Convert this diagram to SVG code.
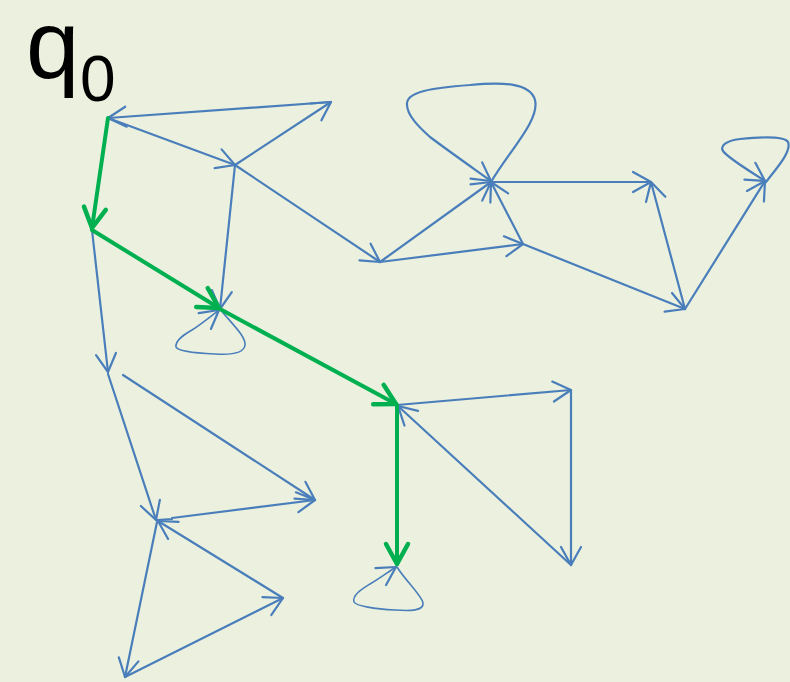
<svg xmlns="http://www.w3.org/2000/svg" width="790" height="682" viewBox="0 0 790 682">
<style>
.b{fill:none;stroke:#4A7EBB;stroke-width:2.2;stroke-linecap:round;stroke-linejoin:round}
.bl{fill:none;stroke:#4A7EBB;stroke-width:1.6;stroke-linecap:round}
.g{fill:none;stroke:#00B050;stroke-width:4;stroke-linecap:round;stroke-linejoin:round}
.t{font-family:"Liberation Sans",Arial,sans-serif;fill:#000}
</style>
<defs>
<marker id="ab" markerUnits="userSpaceOnUse" viewBox="-22 -12 24 24" markerWidth="24" markerHeight="24" refX="0" refY="0" orient="auto" overflow="visible">
<path d="M-18,-10 L0,0 L-18,10" fill="none" stroke="#4A7EBB" stroke-width="2.2" stroke-linecap="round" stroke-linejoin="round"/>
</marker>
<marker id="ag" markerUnits="userSpaceOnUse" viewBox="-24 -14 26 28" markerWidth="26" markerHeight="28" refX="0" refY="0" orient="auto" overflow="visible">
<path d="M-20,-11 L0,0 L-20,11" fill="none" stroke="#00B050" stroke-width="4.5" stroke-linecap="round" stroke-linejoin="round"/>
</marker>
</defs>
<rect width="790" height="682" fill="#EBF1DE"/>
<g id="label-q0">
<text class="t" x="26" y="78" font-size="96">q</text>
<text class="t" x="80" y="101" font-size="64">0</text>
</g>
<g id="connectors">
<line class="b" x1="331" y1="102" x2="108" y2="118" marker-end="url(#ab)"/>
<line class="b" x1="108" y1="118" x2="235" y2="165" marker-end="url(#ab)"/>
<line class="b" x1="235" y1="165" x2="331" y2="102" marker-end="url(#ab)"/>
<line class="b" x1="235" y1="165" x2="220" y2="309" marker-end="url(#ab)"/>
<line class="b" x1="235" y1="165" x2="380" y2="262" marker-end="url(#ab)"/>
<line class="b" x1="380" y1="262" x2="491" y2="182" marker-end="url(#ab)"/>
<line class="b" x1="380" y1="262" x2="523" y2="244" marker-end="url(#ab)"/>
<line class="b" x1="523" y1="244" x2="491" y2="182" marker-end="url(#ab)"/>
<line class="b" x1="491" y1="182" x2="651" y2="182" marker-end="url(#ab)"/>
<line class="b" x1="523" y1="244" x2="685" y2="309" marker-end="url(#ab)"/>
<line class="b" x1="685" y1="309" x2="651" y2="182" marker-end="url(#ab)"/>
<line class="b" x1="685" y1="309" x2="765" y2="181" marker-end="url(#ab)"/>
<path class="b" d="M491,182 C510,150 540,120 535,100 C530,82 500,82 470,85 C430,88 408,92 407,103 C406,115 420,128 430,137 C450,152 470,166 491,181" marker-end="url(#ab)"/>
<path class="b" d="M766,182 C775,170 792,152 788,142 C784,136 760,137 740,139 C725,141 720,146 723,151 C728,158 745,168 765,181" marker-end="url(#ab)"/>
<path class="bl" d="M220,309 C230,322 246,336 245,345 C244,354 230,355 215,354 C195,353 177,351 176,347 C175,340 185,334 192,330 C200,325 210,317 219,310" marker-end="url(#ab)"/>
<line class="b" x1="92" y1="230" x2="108" y2="372" marker-end="url(#ab)"/>
<line class="b" x1="123" y1="375" x2="315" y2="500" marker-end="url(#ab)"/>
<line class="b" x1="108" y1="374" x2="156" y2="520" marker-end="url(#ab)"/>
<path class="b" d="M157,520 L172,519 L172,518 L315,500" marker-end="url(#ab)"/>
<line class="b" x1="283" y1="598" x2="158" y2="521" marker-end="url(#ab)"/>
<line class="b" x1="157" y1="522" x2="125" y2="677" marker-end="url(#ab)"/>
<line class="b" x1="125" y1="677" x2="283" y2="598" marker-end="url(#ab)"/>
<line class="b" x1="397" y1="405" x2="571" y2="390" marker-end="url(#ab)"/>
<line class="b" x1="571" y1="390" x2="571" y2="565" marker-end="url(#ab)"/>
<line class="b" x1="571" y1="565" x2="398" y2="406" marker-end="url(#ab)"/>
<path class="bl" d="M397,567 C405,580 422,596 423,603 C424,611 410,611 395,610 C375,609 356,606 354,602 C352,595 362,589 370,584 C380,578 388,572 396,567" marker-end="url(#ab)"/>
<line class="g" x1="108" y1="118" x2="92" y2="228" marker-end="url(#ag)"/>
<line class="g" x1="92" y1="230" x2="219" y2="308" marker-end="url(#ag)"/>
<line class="g" x1="220" y1="309" x2="396" y2="404" marker-end="url(#ag)"/>
<line class="g" x1="397" y1="405" x2="397" y2="564" marker-end="url(#ag)"/>
</g>
</svg>
